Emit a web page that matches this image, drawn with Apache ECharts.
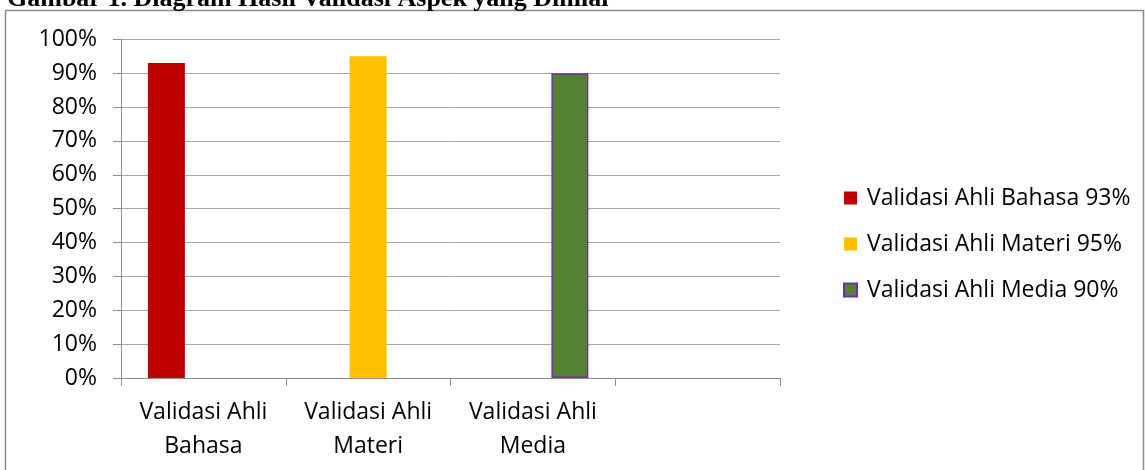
<!DOCTYPE html>
<html>
<head>
<meta charset="utf-8">
<script src="https://cdn.jsdelivr.net/npm/echarts@6/dist/echarts.min.js"></script>
<style>
html,body{margin:0;padding:0;background:#fff;}
#chart{width:1145px;height:470px;}
</style>
</head>
<body>
<div id="chart"></div>
<script>
const titleText = 'Gambar 1. Diagram Hasil Validasi Aspek yang Dinilai';
const categories = ['Validasi Ahli\nBahasa', 'Validasi Ahli\nMateri', 'Validasi Ahli\nMedia', ''];
const seriesNames = ['Validasi Ahli Bahasa 93%', 'Validasi Ahli Materi 95%', 'Validasi Ahli Media 90%'];
const values = [0.93, 0.95, 0.90];
const colors = ['#C00000', '#FFC000', '#548235'];
const borders = [null, null, '#7030A0'];
const yTicks = [0, 0.1, 0.2, 0.3, 0.4, 0.5, 0.6, 0.7, 0.8, 0.9, 1.0];

const FONT = '"Open Sans", sans-serif';
const chart = echarts.init(document.getElementById('chart'), null, {renderer: 'canvas'});

const series = seriesNames.map((name, i) => ({
  name: name,
  type: 'bar',
  barWidth: 37,
  barGap: '0%',
  data: categories.map((c, j) => (j === i ? values[i] : null)),
  itemStyle: {
    color: colors[i],
    borderColor: borders[i] || colors[i],
    borderWidth: borders[i] ? 1.5 : 0
  },
  emphasis: {disabled: true}
}));

chart.setOption({
  animation: false,
  graphic: [
    {
      type: 'rect',
      z: 0,
      shape: {x: 5.5, y: 10.5, width: 1138, height: 480},
      style: {fill: 'none', stroke: '#8c8c8c', lineWidth: 1.5}
    },
    {
      type: 'text',
      z: 10,
      left: 7,
      top: -14,
      style: {
        text: titleText,
        font: 'bold 26px "Liberation Serif", "Times New Roman", serif',
        fill: '#000'
      }
    }
  ],
  grid: {left: 121, right: 365, top: 39.3, bottom: 92, containLabel: false},
  legend: {
    orient: 'vertical',
    left: 838,
    top: 181,
    itemWidth: 13,
    itemHeight: 13,
    itemGap: 22,
    icon: 'rect',
    data: seriesNames,
    textStyle: {fontFamily: FONT, fontSize: 23, color: '#000', lineHeight: 24, padding: [0, 0, 0, 5]}
  },
  xAxis: {
    type: 'category',
    data: categories,
    boundaryGap: true,
    axisLine: {show: true, lineStyle: {color: '#8c8c8c', width: 1}},
    axisTick: {show: true, length: 8, alignWithLabel: false, lineStyle: {color: '#8c8c8c'}},
    axisLabel: {fontFamily: FONT, fontSize: 23, color: '#000', lineHeight: 34, margin: 17, interval: 0},
    splitLine: {show: false}
  },
  yAxis: {
    type: 'value',
    min: 0,
    max: 1,
    interval: 0.1,
    axisLine: {show: true, lineStyle: {color: '#8c8c8c', width: 1}},
    axisTick: {show: true, length: 8, lineStyle: {color: '#8c8c8c'}},
    axisLabel: {
      fontFamily: FONT, fontSize: 23, color: '#000', margin: 24,
      formatter: v => {
        const t = yTicks.find(x => Math.abs(x - v) < 1e-6);
        return Math.round((t === undefined ? v : t) * 100) + '%';
      }
    },
    splitLine: {show: true, lineStyle: {color: '#a6a6a6', width: 1}}
  },
  series: series
});
</script>
</body>
</html>
